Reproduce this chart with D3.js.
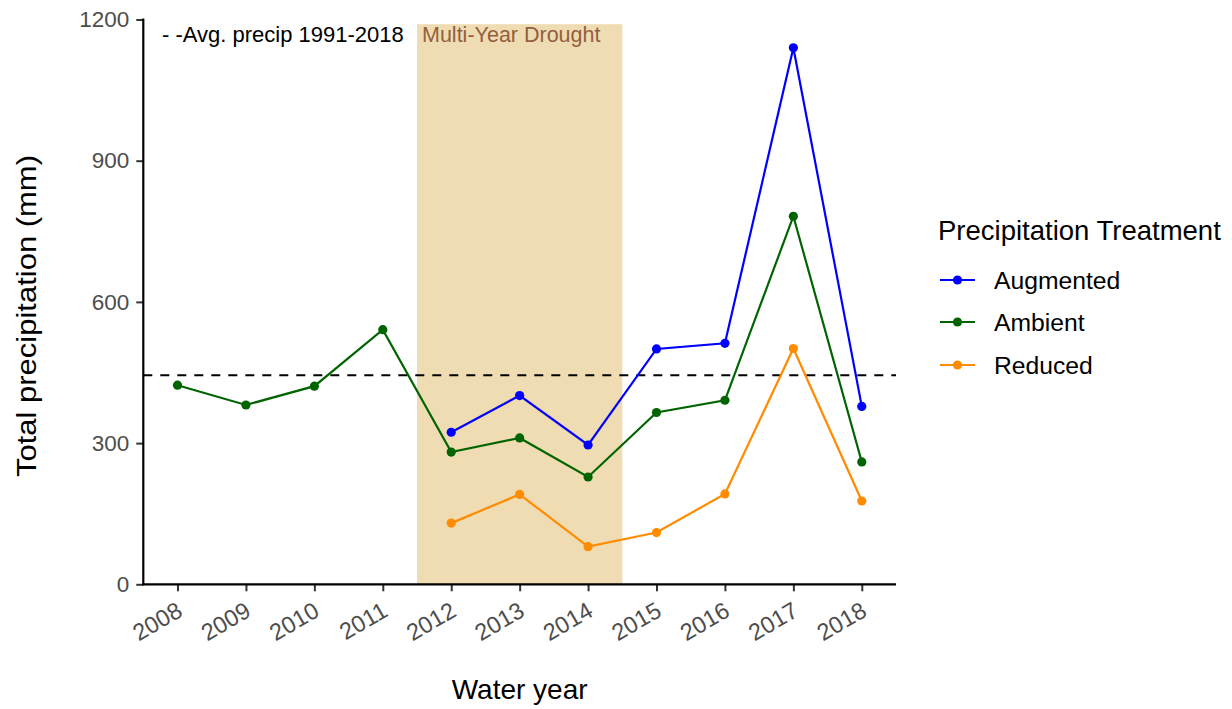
<!DOCTYPE html>
<html>
<head>
<meta charset="utf-8">
<script src="https://cdn.jsdelivr.net/npm/d3@7"></script>
<style>
  html, body { margin: 0; padding: 0; background: #fff; }
  svg { display: block; font-family: "Liberation Sans", Arial, sans-serif; }
</style>
</head>
<body>
<svg id="chart" width="1232" height="709"></svg>
<script>
// Water years and total precipitation (mm) per treatment
const years = [2008, 2009, 2010, 2011, 2012, 2013, 2014, 2015, 2016, 2017, 2018];
const ambient   = [423, 381, 421, 541, 281, 311, 228, 365, 391, 782, 260];
const augmented = [null, null, null, null, 323, 401, 296, 500, 512, 1140, 378];
const reduced   = [null, null, null, null, 130, 191, 80, 110, 192, 501, 177];
const seriesNames = ["Augmented", "Ambient", "Reduced"];
const seriesColors = ["#0000FF", "#006400", "#FF8C00"];
const yTicks = [0, 300, 600, 900, 1200];
const avgPrecip = 444;           // 1991-2018 average
const droughtYears = [2011.5, 2014.5];
const droughtTop = 1190;

const FONT = "'Liberation Sans', Arial, sans-serif";
const svg = d3.select("#chart");

const panel = { left: 143.3, right: 896, top: 19.5, bottom: 584.3 };

const x = d3.scaleLinear().domain([2007.5, 2018.5]).range([panel.left, panel.right]);
const y = d3.scaleLinear().domain([0, 1200]).range([panel.bottom, panel.top]);

// Drought shading
svg.append("rect")
  .attr("x", x(droughtYears[0]))
  .attr("width", x(droughtYears[1]) - x(droughtYears[0]))
  .attr("y", y(droughtTop))
  .attr("height", y(0) - y(droughtTop))
  .attr("fill", "#F0DCB2");

svg.append("text")
  .attr("x", x(droughtYears[0]) + 5)
  .attr("y", 42)
  .attr("font-size", 21.5)
  .attr("fill", "#93603F")
  .text("Multi-Year Drought");

svg.append("text")
  .attr("x", 162)
  .attr("y", 42)
  .attr("font-size", 22)
  .attr("fill", "#000")
  .text("- -Avg. precip 1991-2018");

// Average precipitation reference line
svg.append("line")
  .attr("x1", panel.left).attr("x2", panel.right)
  .attr("y1", y(avgPrecip)).attr("y2", y(avgPrecip))
  .attr("stroke", "#000")
  .attr("stroke-width", 2)
  .attr("stroke-dasharray", "9,8");

// Axes
const yAxis = d3.axisLeft(y).tickValues(yTicks).tickSize(7).tickPadding(7).tickFormat(d3.format("d"));
const gy = svg.append("g").attr("transform", `translate(${panel.left},0)`).call(yAxis);
gy.select(".domain").remove();
gy.selectAll(".tick line").attr("stroke", "#333").attr("stroke-width", 2);
gy.selectAll(".tick text").attr("font-size", 22.5).attr("fill", "#4D4D4D")
  .attr("font-family", FONT);

const xAxis = d3.axisBottom(x).tickValues(years).tickSize(7).tickFormat(d3.format("d"));
const gx = svg.append("g").attr("transform", `translate(0,${panel.bottom})`).call(xAxis);
gx.select(".domain").remove();
gx.selectAll(".tick line").attr("stroke", "#333").attr("stroke-width", 2);
gx.selectAll(".tick text")
  .attr("font-size", 23.5).attr("fill", "#4D4D4D")
  .attr("font-family", FONT)
  .attr("text-anchor", "end")
  .attr("y", 0).attr("dy", 0)
  .attr("transform", "translate(6,31) rotate(-30)");

// Axis lines
svg.append("line")
  .attr("x1", panel.left).attr("x2", panel.left)
  .attr("y1", y(1200) - 1).attr("y2", panel.bottom + 1)
  .attr("stroke", "#000").attr("stroke-width", 2.2);
svg.append("line")
  .attr("x1", panel.left - 1).attr("x2", panel.right)
  .attr("y1", panel.bottom).attr("y2", panel.bottom)
  .attr("stroke", "#000").attr("stroke-width", 2.2);

// Series lines and points
const allSeries = [augmented, ambient, reduced];
const line = d3.line()
  .defined(d => d.v != null)
  .x(d => x(d.year))
  .y(d => y(d.v));

// ambient first, then reduced, then augmented on top
[1, 2, 0].forEach(i => {
  const pts = years.map((yr, j) => ({ year: yr, v: allSeries[i][j] }));
  svg.append("path")
    .datum(pts)
    .attr("d", line)
    .attr("fill", "none")
    .attr("stroke", seriesColors[i])
    .attr("stroke-width", 2.2);
  svg.selectAll(null)
    .data(pts.filter(d => d.v != null))
    .enter().append("circle")
    .attr("cx", d => x(d.year))
    .attr("cy", d => y(d.v))
    .attr("r", 4.6)
    .attr("fill", seriesColors[i]);
});

// Axis titles
svg.append("text")
  .attr("x", (panel.left + panel.right) / 2)
  .attr("y", 699)
  .attr("text-anchor", "middle")
  .attr("font-size", 28)
  .attr("fill", "#000")
  .text("Water year");

svg.append("text")
  .attr("transform", "translate(36,316) rotate(-90)")
  .attr("text-anchor", "middle")
  .attr("font-size", 27)
  .attr("textLength", 322)
  .attr("lengthAdjust", "spacingAndGlyphs")
  .attr("fill", "#000")
  .text("Total precipitation (mm)");

// Legend
const legend = svg.append("g");
legend.append("text")
  .attr("x", 938).attr("y", 240)
  .attr("font-size", 27.5)
  .attr("fill", "#000")
  .text("Precipitation Treatment");

const legendY = [280, 322, 365];
seriesNames.forEach((name, i) => {
  legend.append("line")
    .attr("x1", 940).attr("x2", 975)
    .attr("y1", legendY[i]).attr("y2", legendY[i])
    .attr("stroke", seriesColors[i]).attr("stroke-width", 2.2);
  legend.append("circle")
    .attr("cx", 957.5).attr("cy", legendY[i]).attr("r", 4.6)
    .attr("fill", seriesColors[i]);
  legend.append("text")
    .attr("x", 994).attr("y", legendY[i])
    .attr("dy", "0.35em")
    .attr("font-size", 24.7)
    .attr("fill", "#000")
    .text(name);
});
</script>
</body>
</html>
